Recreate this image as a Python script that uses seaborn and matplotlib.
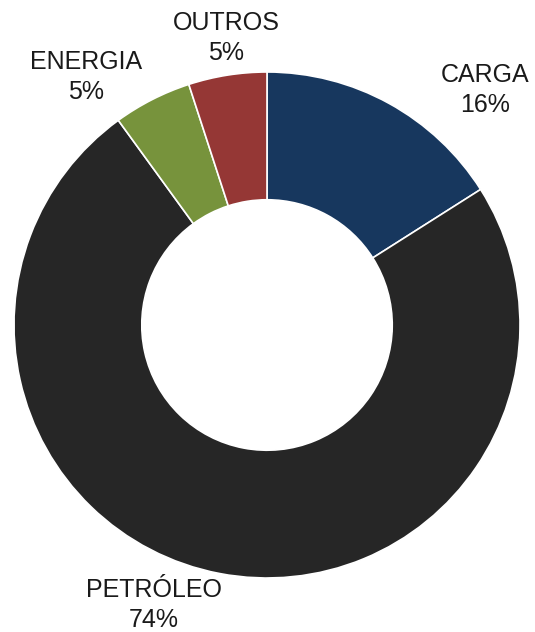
import matplotlib
matplotlib.use("Agg")
import matplotlib.pyplot as plt
import seaborn as sns

sns.set_theme(style="white")
plt.rcParams["font.family"] = ["Liberation Sans", "DejaVu Sans"]

categories = ["CARGA", "PETRÓLEO", "ENERGIA", "OUTROS"]
shares = [16, 74, 5, 5]
colors = ["#17375E", "#262626", "#77933C", "#953735"]
# label anchor points, in units of the outer radius
label_x = [0.862, -0.447, -0.717, -0.162]
label_y = [0.928, -1.107, 0.980, 1.134]

fig = plt.figure(figsize=(5.35, 6.32), dpi=100)
ax = fig.add_axes([0, 0, 1, 1])

ax.pie(
    shares,
    colors=colors,
    startangle=90,
    counterclock=False,
    radius=1.0,
    wedgeprops=dict(width=0.505, edgecolor="white", linewidth=1.2),
)

for name, val, x, y in zip(categories, shares, label_x, label_y):
    ax.text(x, y, f"{name}\n{val}%", ha="center", va="center",
            fontsize=18, color="#1a1a1a", linespacing=1.3)

ax.set_xlim(-267 / 253, (535 - 267) / 253)
ax.set_ylim(-307 / 253, 325 / 253)
ax.set_aspect("auto")
ax.axis("off")

fig.savefig("out.png", dpi=100, facecolor="white")
